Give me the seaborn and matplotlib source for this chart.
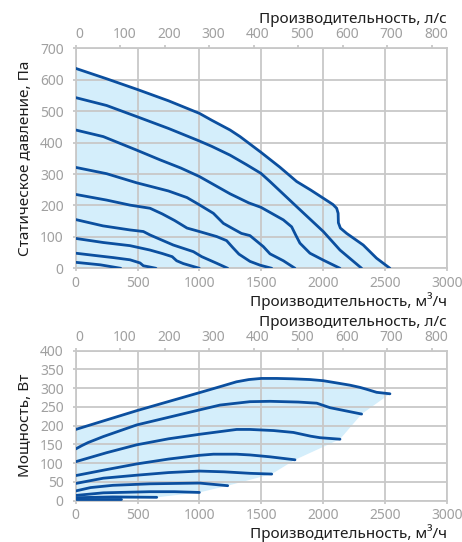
import pandas as pd
import seaborn as sns
import matplotlib.pyplot as plt
from matplotlib.transforms import ScaledTranslation

# Pressure curves (flow m3/h, static pressure Pa), top to bottom
p1_flow = [0, 250, 498, 750, 1000, 1100, 1248, 1329, 1498, 1650, 1787, 1900, 2002, 2080, 2110, 2122, 2124, 2140, 2191, 2325, 2433, 2541]
p1_pa = [636, 603, 569, 533, 493, 471, 440, 419, 369, 322, 276, 249, 223, 203, 191, 175, 145, 128, 111, 74, 32, 0]
p2_flow = [0, 250, 498, 750, 1000, 1100, 1248, 1380, 1498, 1571, 1787, 2002, 2137, 2312]
p2_pa = [543, 518, 482, 445, 405, 388, 360, 330, 302, 276, 196, 117, 58, 0]
p3_flow = [0, 223, 493, 682, 850, 1000, 1248, 1400, 1498, 1679, 1746, 1780, 1813, 1894, 2002, 2137]
p3_pa = [440, 419, 376, 345, 319, 292, 237, 208, 194, 154, 132, 105, 80, 48, 26, 0]
p4_flow = [0, 250, 493, 750, 900, 1000, 1113, 1194, 1280, 1340, 1409, 1517, 1571, 1679, 1773]
p4_pa = [321, 301, 272, 246, 225, 202, 175, 143, 124, 111, 104, 69, 46, 24, 0]
p5_flow = [0, 250, 439, 601, 700, 800, 900, 1000, 1140, 1220, 1270, 1320, 1409, 1490, 1585]
p5_pa = [235, 217, 201, 191, 173, 152, 128, 117, 101, 88, 66, 45, 22, 10, 0]
p6_flow = [0, 220, 439, 547, 601, 789, 951, 1019, 1140, 1229]
p6_pa = [155, 135, 122, 117, 106, 74, 53, 37, 16, 0]
p7_flow = [0, 223, 439, 601, 700, 780, 816, 870, 1000]
p7_pa = [95, 82, 72, 58, 47, 37, 24, 15, 0]
p8_flow = [0, 150, 304, 439, 520, 547, 600, 649]
p8_pa = [48, 41, 34, 27, 17, 8, 4, 0]
p9_flow = [0, 200, 364]
p9_pa = [19, 11, 0]

# Power curves (flow m3/h, power W), top to bottom
w1_flow = [0, 493, 1000, 1167, 1300, 1400, 1500, 1625, 1750, 1895, 2000, 2110, 2218, 2300, 2353, 2433, 2541]
w1_w = [190, 240, 288, 304, 317, 323, 326, 326, 325, 323, 320, 314, 308, 302, 297, 289, 285]
w2_flow = [0, 50, 100, 223, 493, 1000, 1167, 1409, 1571, 1800, 1949, 2056, 2312]
w2_w = [138, 147, 155, 171, 202, 242, 255, 264, 265, 263, 260, 248, 231]
w3_flow = [0, 250, 493, 750, 1000, 1302, 1409, 1600, 1760, 1900, 1975, 2137]
w3_w = [104, 128, 149, 165, 177, 190, 190, 187, 182, 172, 168, 164]
w4_flow = [0, 250, 493, 750, 1000, 1113, 1300, 1409, 1571, 1773]
w4_w = [67, 83, 98, 111, 121, 124, 124, 122, 117, 109]
w5_flow = [0, 223, 493, 750, 1000, 1200, 1409, 1585]
w5_w = [46, 60, 68, 75, 79, 77, 73, 71]
w6_flow = [0, 120, 300, 600, 1000, 1229]
w6_w = [26, 35, 41, 45, 47, 40]
w7_flow = [0, 223, 600, 800, 1000]
w7_w = [14, 21, 24, 24, 22]
w8_flow = [0, 300, 655]
w8_w = [8, 10, 9]
w9_flow = [0, 364]
w9_w = [4, 4]

flow_ticks = [0, 500, 1000, 1500, 2000, 2500, 3000]
ls_ticks = [0, 100, 200, 300, 400, 500, 600, 700, 800]
pa_ticks = [0, 100, 200, 300, 400, 500, 600, 700]
w_ticks = [0, 50, 100, 150, 200, 250, 300, 350, 400]

LINE = "#0b4f9f"
FILL = "#d4eefb"
GRID = "#c8c8c8"
TICK = "#a0a0a0"
TEXT = "#1e1e1e"

p_curves = [(p1_flow, p1_pa), (p2_flow, p2_pa), (p3_flow, p3_pa), (p4_flow, p4_pa), (p5_flow, p5_pa),
            (p6_flow, p6_pa), (p7_flow, p7_pa), (p8_flow, p8_pa), (p9_flow, p9_pa)]
w_curves = [(w1_flow, w1_w), (w2_flow, w2_w), (w3_flow, w3_w), (w4_flow, w4_w), (w5_flow, w5_w),
            (w6_flow, w6_w), (w7_flow, w7_w), (w8_flow, w8_w), (w9_flow, w9_w)]


def long_frame(curves):
    rows = []
    for i, (xs, ys) in enumerate(curves):
        for x, y in zip(xs, ys):
            rows.append({"curve": i, "flow": x, "value": y})
    return pd.DataFrame(rows)


df_p = long_frame(p_curves)
df_w = long_frame(w_curves)

sns.set_theme(style="whitegrid")
plt.rcParams['font.family'] = ['Noto Sans', 'DejaVu Sans']

fig = plt.figure(figsize=(4.62, 5.42), dpi=100)
ax_p = fig.add_axes([0.1639, 0.5050, 0.803, 0.4059])
ax_w = fig.add_axes([0.1639, 0.0762, 0.803, 0.2768])

# light blue operating areas
ax_p.fill_between(p1_flow, p1_pa, 0, color=FILL, lw=0, zorder=1)
ends_x = [c[0][-1] for c in w_curves[1:]]
ends_y = [c[1][-1] for c in w_curves[1:]]
poly_x = w1_flow + ends_x + w9_flow[::-1]
poly_y = w1_w + ends_y + w9_w[::-1]
ax_w.fill(poly_x, poly_y, color=FILL, lw=0, zorder=1)

sns.lineplot(data=df_p, x="flow", y="value", units="curve", estimator=None, sort=False,
             color=LINE, lw=2, ax=ax_p, zorder=3)
sns.lineplot(data=df_w, x="flow", y="value", units="curve", estimator=None, sort=False,
             color=LINE, lw=2, ax=ax_w, zorder=3)

shift = ScaledTranslation(4 / 100, 0, fig.dpi_scale_trans)

for ax, yt, ylab in [(ax_p, pa_ticks, "Статическое давление, Па"), (ax_w, w_ticks, "Мощность, Вт")]:
    ax.set_xlim(0, 3000)
    ax.set_ylim(yt[0], yt[-1])
    ax.set_xticks(flow_ticks)
    ax.set_yticks(yt)
    ax.set_axisbelow(False)
    ax.grid(True, color=GRID, lw=1.3, zorder=2)
    for s in ax.spines.values():
        s.set_color(GRID)
        s.set_linewidth(1.3)
        s.set_zorder(2)
    ax.tick_params(axis="both", which="major", bottom=True, left=True, length=2.2, width=1.3,
                   color=GRID, labelcolor=TICK, labelsize=10)
    ax.tick_params(axis="y", pad=6.5)
    ax.tick_params(axis="x", pad=3)
    ax.set_ylabel(ylab, fontsize=11, color=TEXT, labelpad=5)
    ax.set_xlabel("Производительность, м³/ч", fontsize=11, color=TEXT, loc="right", labelpad=1)

    top = ax.secondary_xaxis("top", functions=(lambda x: x / 3.6, lambda x: x * 3.6))
    top.set_xticks(ls_ticks)
    top.tick_params(axis="x", top=True, length=2.2, width=1.3, color=GRID, labelcolor=TICK,
                    labelsize=10, pad=2)
    top.spines["top"].set_visible(False)
    for lab in top.get_xticklabels():
        lab.set_transform(lab.get_transform() + shift)
    top.set_xlabel("Производительность, л/с", fontsize=11, color=TEXT, loc="right", labelpad=3)

fig.savefig("out.png", dpi=100)
